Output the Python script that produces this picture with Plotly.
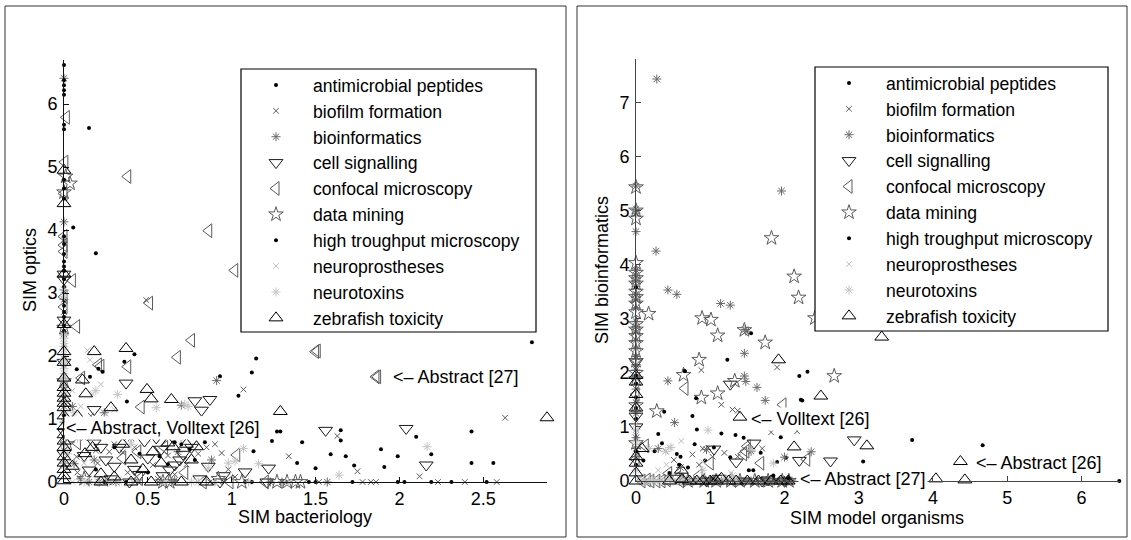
import plotly.graph_objects as go

W, H = 1131, 540

# ---- series names (legend order) ----
series_names = [
    "antimicrobial peptides", "biofilm formation", "bioinformatics",
    "cell signalling", "confocal microscopy", "data mining",
    "high troughput microscopy", "neuroprostheses", "neurotoxins",
    "zebrafish toxicity",
]

# ---- left panel: (SIM bacteriology, SIM optics) ----
amp_left = [
    (2.79, 2.22), (2.43, 0.80), (2.43, 0.30), (2.56, 0.30), (2.19, 0.44), (2.10, 0.72),
    (1.99, 0.41), (1.89, 0.52), (1.91, 0.24), (1.73, 0.26), (1.68, 0.41), (1.65, 0.82),
    (1.65, 0.66), (1.59, 0.44), (1.50, 0.22), (1.42, 0.63), (1.27, 0.80), (1.29, 0.80),
    (1.24, 0.65), (1.13, 0.49), (1.146, 1.96), (1.12, 1.74), (1.04, 1.37), (0.93, 1.68),
    (1.39, 0.30), (0.70, 0.60), (0.66, 0.63), (0.57, 0.41), (0.84, 0.63),
    (1.08, 0), (1.12, 0), (1.33, 0), (1.46, 0), (1.50, 0), (1.72, 0), (1.99, 0), (2.03, 0),
    (2.19, 0), (2.31, 0), (2.52, 0), (0.24, 0), (0.37, 0),
    (0.50, 0.15), (0.62, 0.28), (0.78, 0.35), (0.75, 0.52),
]
biofilm_left = [
    (0.49, 2.89), (1.07, 1.47), (2.63, 1.02), (1.63, 0.73), (1.75, 0.17), (2.12, 0.09),
    (1.34, 0.41), (0.94, 0.46), (2.23, 0), (2.39, 0), (2.58, 0), (1.86, 0), (1.83, 0),
    (1.78, 0), (1.52, 0), (1.30, 0), (0.87, 0), (0.45, 0), (0.30, 0.60), (0.19, 0.50),
    (0.42, 0.55), (0.53, 0.27), (0.62, 0.42), (0.73, 0.28), (0.35, 0.47), (0.27, 0.48),
    (0.075, 0.40), (0.25, 0.85), (0.16, 1.05), (0.98, 0.20), (0.66, 0.12), (1.02, 0.08),
    (0, 0.70), (0, 1.10), (0, 2.70), (0, 3.85), (0, 4.50), (0.12, 0.70), (0.85, 0.55),
    (0.08, 0.15), (0.20, 0.30), (0.38, 0.15), (0.56, 0.05), (0.80, 0.45), (0.90, 0.60),
    (0.05, 0.85),
]
bioinf_left = [
    (0, 6.41), (0, 4.13), (0.91, 1.61), (0.70, 1.22), (0.06, 0.29), (0.10, 0.05),
    (0.15, 0), (0.21, 0), (0.26, 0), (0.31, 0), (0.58, 0), (0.64, 0), (0.66, 0.03),
    (1.23, 0), (1.30, 0), (1.57, 0), (0, 2.35), (0, 2.90), (0, 3.05), (0, 1.50),
    (0, 1.20), (0, 0.95), (0, 0.50), (0, 0.30), (0.05, 1.20), (0.40, 0.70),
    (0.18, 0.35), (0.68, 0.48), (0.88, 0.35), (0.24, 1.10),
]
cell_left = [
    (1.56, 0.82), (2.04, 0.85), (2.16, 0.27), (0.37, 1.57), (0.78, 1.29), (0.87, 1.31),
    (0.82, 1.14), (0.18, 1.15), (0, 2.57), (0, 3.30), (0, 3.22), (0, 1.90), (1.22, 0.22),
    (1.08, 0.16), (0.93, 0), (1.21, 0), (0.39, 0), (0.63, 0.19), (0.42, 0.20), (0.15, 0.19),
    (0.69, 0.35), (0.59, 0.10), (0.30, 0.25), (0.22, 0.55), (0.48, 0.65), (0.55, 0.70),
    (0.36, 0.75), (0.76, 0.55), (0.81, 0.05), (0, 0.80), (0, 0.45), (0.05, 0.95), (0.25, 0.35),
    (0.12, 0.42), (0.28, 0.05), (0.33, 0.55), (0.50, 0.38), (0.58, 0.52), (0.66, 0.27),
    (0.71, 0.44), (0.18, 0.62), (0.45, 0.12), (0.86, 0.25), (0.95, 0.10),
]
confocal_left = [
    (0.014, 5.79), (0.005, 5.08), (0.38, 4.85), (0.863, 3.99), (1.018, 3.36), (0.51, 2.84),
    (0.05, 3.20), (0.075, 2.47), (0.76, 2.25), (0.676, 1.98), (1.50, 2.07), (1.51, 2.08),
    (0.38, 1.83), (0.205, 1.86), (0.22, 1.84), (0.105, 1.65), (1.86, 1.67), (1.87, 1.67),
    (0.46, 1.19), (1.03, 0.43), (1.20, 0), (0.99, 0), (0.83, 0), (0, 4.58), (0, 3.90),
    (0, 3.76), (0, 3.66), (0, 2.94), (0, 2.78), (0.44, 0.48), (0.35, 0.38), (0.08, 0.62),
    (0.72, 0.15), (0.45, 0.05), (0.60, 0.55),
]
mining_left = [
    (0.036, 4.74), (0.01, 4.85), (0, 4.60), (0, 2.45), (0, 1.60), (0.59, 0), (0.63, 0),
    (1.27, 0), (1.33, 0), (1.38, 0), (1.41, 0), (1.06, 0), (0.02, 0.60), (0.12, 0.05),
    (0.92, 0.05),
]
htm_left = [
    (0, 6.62), (0, 6.38), (0, 6.30), (0, 6.22), (0, 6.15), (0, 5.67), (0, 5.60), (0, 4.80),
    (0, 4.66), (0, 4.50), (0, 3.90), (0, 3.78), (0, 3.62), (0, 3.50), (0, 3.42), (0, 3.35),
    (0, 3.22), (0, 3.10), (0, 3.02), (0, 2.88), (0, 2.80), (0, 2.70), (0, 2.62), (0, 2.48),
    (0, 2.40), (0, 1.35), (0, 1.05), (0, 0.72),
    (0.149, 5.62), (0.055, 4.04), (0.19, 3.63), (0.42, 2.03), (0.36, 1.91), (0.076, 1.79),
    (0.155, 1.67), (0.205, 1.80), (0.23, 1.75), (0.375, 1.28), (0.10, 0.95), (0.30, 0.55),
    (0.45, 0.45), (0.19, 0.20),
]
nprost_left = [
    (0.14, 2.09), (0.155, 1.94), (0.17, 1.40), (0, 2.90), (0, 2.20), (0.05, 1.45),
    (0.28, 0.88), (0.18, 0.70), (0.45, 0.90), (0.12, 0.30), (0.33, 0.05), (0.70, 0.65),
    (0.25, 1.00), (0.05, 0), (0.10, 1.20), (0.22, 1.55), (0.08, 0.90), (0.30, 1.15),
    (0.15, 0.05),
]
ntox_left = [
    (0, 2.33), (0, 2.28), (0, 2.20), (0, 2.15), (0, 2.10), (0, 2.02), (0, 1.95), (0, 1.90),
    (0, 1.85), (0, 1.80), (0, 1.72), (0, 1.65), (0, 1.60), (0, 1.52), (0, 1.45), (0, 1.38),
    (0, 1.30), (0, 2.95), (0, 3.05), (0, 0.60), (0, 0.25),
    (0.32, 1.39), (0.55, 1.18), (0.72, 1.23), (0.74, 1.20), (0.98, 0.30), (1.02, 0.33),
    (1.07, 0.53), (1.16, 0.29), (1.64, 0.11), (2.165, 0.56), (0.19, 1.45), (0.40, 0.60),
    (0.08, 0.70), (0.86, 0.22),
    (0.12, 0), (0.20, 0), (0.27, 0), (0.33, 0), (0.41, 0), (0.60, 0), (0.76, 0), (0.80, 0),
    (0.90, 0), (1.10, 0), (1.34, 0),
    (0.06, 1.10), (0.12, 0.95), (0.22, 0.80), (0.35, 0.95), (0.50, 0.85), (0.02, 0.45),
]
zebra_left = [
    (0, 4.95), (0, 4.42), (0, 3.30), (0, 2.07), (0, 1.65), (0, 1.41), (0, 1.33), (0, 1.25),
    (0, 1.18), (0, 0.55), (0, 0.40), (0, 0.30), (0, 0.20), (0, 0.10), (0, 0.02),
    (0.37, 2.12), (0.18, 2.07), (0.495, 1.47), (0.52, 1.32), (0.64, 1.31), (0.28, 1.18),
    (1.29, 1.12), (2.88, 1.02), (0.13, 1.40), (0.11, 1.62), (0.125, 0.45), (0.22, 0.13),
    (0.40, 0.35), (0.53, 0.48), (0.52, 0), (0.65, 0.56), (0.79, 0.56), (0.76, 0.35),
    (0.70, 0), (0.22, 0), (0.12, 0.75),
    (0.05, 0.25), (0.17, 0.55), (0.30, 0.08), (0.35, 0.60), (0.47, 0.20), (0.58, 0.30),
    (0.62, 0.62), (0.73, 0.60), (0.85, 0), (0.40, 0), (0.08, 1.05), (0, 0.65), (0, 0.75),
    (0, 0.88), (0, 1.05), (0, 1.50), (0, 1.90), (0, 2.50),
]

# ---- right panel: (SIM model organisms, SIM bioinformatics) ----
amp_right = [
    (1.55, 2.73), (1.23, 2.24), (0.65, 2.04), (2.20, 1.94), (2.31, 2.02), (2.24, 1.49),
    (0.38, 1.28), (0.76, 1.20), (3.72, 0.76), (4.67, 0.66), (1.95, 0.81), (0.30, 0.87),
    (1.15, 0.88), (1.45, 0.80), (3.06, 0.36), (6.51, 0), (2.02, 0.43), (1.68, 0.52),
    (0.79, 0.68), (0.55, 0.50), (0.60, 0.45), (0.93, 0.38), (1.27, 0.44), (1.52, 0.20),
    (1.58, 0.20), (0.35, 0.70), (0.82, 0.95), (2.50, 1.10), (1.90, 0.35), (0.25, 0.55),
    (0.10, 0.38),
]
biofilm_right = [
    (1.90, 2.10), (0.88, 2.05), (1.15, 1.41), (1.30, 1.32), (1.37, 1.30), (2.17, 0.92),
    (1.19, 0.52), (0.76, 0.49), (0.51, 0.39), (0.85, 0.30), (1.82, 0.90), (1.03, 0.45),
    (1.37, 0.45), (0.90, 0.60), (0.40, 0.55), (1.70, 0.60), (0, 0.85), (0, 2.30),
    (0.95, 0), (1.10, 0), (1.25, 0), (1.42, 0), (1.58, 0), (1.75, 0), (1.88, 0), (2.00, 0),
    (2.08, 0), (0.72, 0), (0.83, 0), (1.32, 0), (1.50, 0), (1.66, 0), (1.95, 0), (2.04, 0),
    (1.18, 0),
]
bioinf_right = [
    (0.28, 7.43), (1.96, 5.36), (0.27, 4.25), (0.43, 3.53), (0.55, 3.45), (1.14, 3.28),
    (1.27, 3.25), (1.47, 2.80), (1.48, 2.77), (1.46, 2.36), (1.63, 1.73), (1.74, 1.49),
    (0.43, 1.85), (0.52, 1.08), (1.46, 1.94), (2.00, 0.44), (2.36, 0.54), (1.48, 1.84),
    (0.30, 0.60), (0.60, 0.25), (0.95, 0.58), (1.55, 0.55),
    (0, 5.45), (0, 5.02), (0, 4.95), (0, 4.61), (0, 3.90), (0, 3.80), (0, 3.70), (0, 3.60),
    (0, 3.45), (0, 3.35), (0, 3.20), (0, 2.95), (0, 2.85), (0, 2.75), (0, 2.60), (0, 2.45),
    (0, 2.30), (0, 2.15), (0, 2.05), (0, 1.90), (0, 1.70), (0, 1.45), (0, 1.25), (0, 0.80),
    (0, 0.60), (0, 0.45),
    (0.62, 0), (0.78, 0), (0.88, 0), (1.02, 0), (1.15, 0), (1.22, 0), (1.32, 0), (1.48, 0),
    (1.55, 0), (1.63, 0), (1.70, 0), (1.80, 0), (1.86, 0), (1.93, 0), (2.02, 0), (2.10, 0),
    (0.70, 0), (0.95, 0), (1.08, 0), (1.40, 0), (1.76, 0), (1.98, 0), (2.06, 0),
]
cell_right = [
    (1.27, 1.79), (2.94, 0.76), (2.62, 0.37), (1.59, 0.70), (1.05, 0.59), (0, 1.00),
    (0, 1.20), (0, 2.20), (2.20, 0.38), (1.35, 0.35), (0.55, 0.05), (1.12, 0.05), (1.78, 0.02),
    (0.95, 0), (1.45, 0), (1.70, 0), (2.00, 0),
]
confocal_right = [
    (0.66, 1.71), (0.125, 0.65), (0.44, 0.14), (1.00, 0.33), (1.48, 0.55), (1.68, 0.33),
    (1.98, 1.41), (1.45, 0.50), (2.30, 0.40), (0.55, 0.05), (0.35, 0), (0.20, 0), (0.08, 0),
    (0, 0.40), (0, 1.60), (0.85, 0.10), (1.50, 0.64), (0.28, 0), (0.42, 0.02), (0.15, 0.02),
    (0.60, 0),
]
mining_right = [
    (0, 7.82), (1.825, 4.49), (2.13, 3.78), (2.19, 3.39), (2.41, 3.01), (0.17, 3.09),
    (0.89, 3.01), (1.01, 2.98), (1.10, 2.69), (1.46, 2.79), (1.74, 2.56), (0.85, 2.24),
    (0.64, 1.96), (2.67, 1.94), (0.88, 1.54), (1.10, 1.62), (1.33, 1.85), (0.28, 1.29),
    (0, 5.43), (0, 5.00), (0, 4.85), (0, 4.03), (0, 3.85), (0, 3.75), (0, 3.65), (0, 3.50),
    (0, 3.40), (0, 3.28), (0, 3.12), (0, 2.90), (0, 2.80), (0, 2.68), (0, 2.55), (0, 2.40),
    (0, 2.22), (0, 2.00), (0, 1.88), (0, 1.40), (0, 0.70),
    (0.70, 0), (0.92, 0), (1.08, 0), (1.28, 0), (1.40, 0), (1.60, 0), (1.78, 0), (1.97, 0),
    (2.06, 0),
]
htm_right = [
    (0, 3.58), (0, 1.95), (0, 1.80), (0, 1.55), (0, 1.35), (0, 1.15), (0, 0.55), (0, 0.30),
    (0.66, 2.03), (0.81, 1.53), (2.22, 1.50), (1.34, 0.85), (0.58, 0.30), (0.70, 0.25),
    (1.05, 0.62), (1.85, 0.10), (2.05, 0.05), (0.45, 0.15),
]
nprost_right = [
    (0.61, 0.74), (0.45, 0.62), (0.41, 0.30), (0.30, 0.20), (0.05, 0.05), (0.15, 0),
    (0.90, 0.35), (0, 0.90), (0, 1.05), (1.28, 0.15), (0.48, 0),
]
ntox_right = [
    (0.97, 0.94), (0.47, 0.62), (1.85, 0.33), (0.18, 0.60), (0.40, 0.55), (1.55, 0.58),
    (1.30, 0.10), (0.90, 0.20), (0, 0.70), (0, 0.95), (0, 0.20),
    (0.10, 0), (0.18, 0), (0.26, 0), (0.33, 0), (0.40, 0), (0.50, 0), (0.56, 0), (0.66, 0),
    (1.18, 0), (1.20, 0.05), (1.35, 0.02), (0.05, 0), (0.22, 0.02), (0.30, 0), (0.45, 0.03),
    (0.62, 0.02), (0.75, 0), (0.85, 0.02),
]
zebra_right = [
    (3.31, 2.66), (1.92, 2.24), (2.49, 1.57), (1.40, 1.18), (2.13, 0.63), (3.11, 0.65),
    (0.61, 0.20), (4.37, 0.36), (4.43, 0.02), (4.04, 0.04), (0, 0), (0, 1.83), (0, 0.33),
    (0, 1.60), (0.82, 0), (1.00, 0), (1.08, 0), (1.15, 0.05), (0.62, 0.03), (0.08, 0.60),
    (0.72, 0), (0.90, 0), (1.25, 0), (1.35, 0), (1.50, 0), (1.65, 0), (1.82, 0), (1.95, 0),
    (2.05, 0), (0.45, 0), (0, 0.45), (0, 0.15), (0, 1.35), (0, 1.95),
]

left_sets = [amp_left, biofilm_left, bioinf_left, cell_left, confocal_left,
             mining_left, htm_left, nprost_left, ntox_left, zebra_left]
right_sets = [amp_right, biofilm_right, bioinf_right, cell_right, confocal_right,
              mining_right, htm_right, nprost_right, ntox_right, zebra_right]

# marker style per series: (symbol, colour, size)
styles = [
    ("circle", "#000000", 4),
    ("x-thin-open", "#5a5a5a", 5.6),
    ("asterisk-open", "#6a6a6a", 7.5),
    ("triangle-down-open", "#1a1a1a", 12),
    ("triangle-left-open", "#5a5a5a", 12),
    ("star-open", "#5a5a5a", 11),
    ("circle", "#000000", 4),
    ("x-thin-open", "#bdbdbd", 5.6),
    ("asterisk-open", "#c4c4c4", 7.5),
    ("triangle-up-open", "#000000", 12),
]

FONT = "Liberation Sans, Arial, Helvetica, sans-serif"

fig = go.Figure()


def add_panel(sets, xa, ya, legend_id):
    for name, pts, (sym, col, sz) in zip(series_names, sets, styles):
        xs = [p[0] for p in pts]
        ys = [p[1] for p in pts]
        if sym == "circle":
            marker = dict(symbol=sym, color=col, size=sz, line=dict(width=0))
        else:
            marker = dict(symbol=sym, color=col, size=sz, line=dict(width=1, color=col))
        fig.add_trace(go.Scatter(
            x=xs, y=ys, mode="markers", name=name, marker=marker,
            xaxis=xa, yaxis=ya, legend=legend_id, cliponaxis=False,
        ))


add_panel(left_sets, "x", "y", "legend")
add_panel(right_sets, "x2", "y2", "legend2")


def px_x(v):
    return v / W


def px_y(v):
    return 1 - v / H


axis_common = dict(
    showline=True, linewidth=1, ticks="inside", ticklen=5, tickwidth=1,
    showgrid=False, zeroline=False, mirror=False, automargin=False,
    tickfont=dict(family=FONT, size=18, color="#000000"),
)

fig.update_layout(
    width=W, height=H, autosize=False,
    margin=dict(l=0, r=0, t=0, b=0, pad=0),
    paper_bgcolor="white", plot_bgcolor="rgba(0,0,0,0)",
    font=dict(family=FONT, size=18, color="#000000"),
    xaxis=dict(domain=[px_x(64), px_x(547)], range=[0, 2.88], anchor="y",
               tickvals=[0, 0.5, 1, 1.5, 2, 2.5], ticktext=["0", "0.5", "1", "1.5", "2", "2.5"],
               linecolor="#111111", tickcolor="#111111", **axis_common),
    yaxis=dict(domain=[px_y(482), px_y(60)], range=[0, 6.7], anchor="x",
               tickvals=[0, 1, 2, 3, 4, 5, 6], ticklabelstandoff=2,
               linecolor="#111111", tickcolor="#111111", **axis_common),
    xaxis2=dict(domain=[px_x(636), px_x(1120)], range=[0, 6.52], anchor="y2",
                tickvals=[0, 1, 2, 3, 4, 5, 6],
                linecolor="#444444", tickcolor="#444444", **axis_common),
    yaxis2=dict(domain=[px_y(481), px_y(59)], range=[0, 7.8], anchor="x2",
                tickvals=[0, 1, 2, 3, 4, 5, 6, 7], ticklabelstandoff=2,
                linecolor="#444444", tickcolor="#444444", **axis_common),
    legend=dict(x=px_x(239), y=px_y(67), xanchor="left", yanchor="top",
                bgcolor="rgba(0,0,0,0)", borderwidth=0, itemwidth=64,
                font=dict(family=FONT, size=17.6, color="#000000"),
                itemclick=False, itemdoubleclick=False),
    legend2=dict(x=px_x(812), y=px_y(65), xanchor="left", yanchor="top",
                 bgcolor="rgba(0,0,0,0)", borderwidth=0, itemwidth=64,
                 font=dict(family=FONT, size=17.6, color="#000000"),
                 itemclick=False, itemdoubleclick=False),
)

# panel frames and legend boxes
shapes = []
for x0, x1 in [(5, 566), (577, 1127)]:
    shapes.append(dict(type="rect", xref="paper", yref="paper",
                       x0=px_x(x0), x1=px_x(x1), y0=px_y(537), y1=px_y(6),
                       line=dict(color="#333333", width=1), fillcolor="rgba(0,0,0,0)",
                       layer="below"))
for x0, x1, y0, y1 in [(241, 536, 69, 332), (815, 1108, 67, 331)]:
    shapes.append(dict(type="rect", xref="paper", yref="paper",
                       x0=px_x(x0), x1=px_x(x1), y0=px_y(y1), y1=px_y(y0),
                       line=dict(color="#000000", width=1.2), fillcolor="white",
                       layer="above"))
fig.update_layout(shapes=shapes)

annotations = []
# axis titles
for text, cx, cy, ang in [
    ("SIM bacteriology", 305, 517, 0),
    ("SIM optics", 30, 270, -90),
    ("SIM model organisms", 877, 518, 0),
    ("SIM bioinformatics", 602, 270, -90),
]:
    annotations.append(dict(text=text, x=px_x(cx), y=px_y(cy), xref="paper", yref="paper",
                            showarrow=False, textangle=ang, xanchor="center", yanchor="middle",
                            font=dict(family=FONT, size=18, color="#000000")))

# document callouts
for text, x, y, xr, yr, ys in [
    ("<\u2013 Abstract, Volltext [26]", 0.0, 0.86, "x", "y", 0),
    ("<\u2013 Abstract [27]", 1.95, 1.67, "x", "y", 0),
    ("<\u2013 Volltext [26]", 1.52, 1.14, "x2", "y2", 0),
    ("<\u2013 Abstract [27]", 2.18, 0.0, "x2", "y2", 2),
    ("<\u2013 Abstract [26]", 4.555, 0.33, "x2", "y2", 0),
]:
    annotations.append(dict(text=text, x=x, y=y, xref=xr, yref=yr, showarrow=False,
                            xanchor="left", yanchor="middle", yshift=ys,
                            bgcolor="white", borderpad=1,
                            font=dict(family=FONT, size=18, color="#000000")))
fig.update_layout(annotations=annotations)

fig.write_html(
    "out.html",
    post_script="document.body.style.margin='0';document.body.style.overflow='hidden';",
)
